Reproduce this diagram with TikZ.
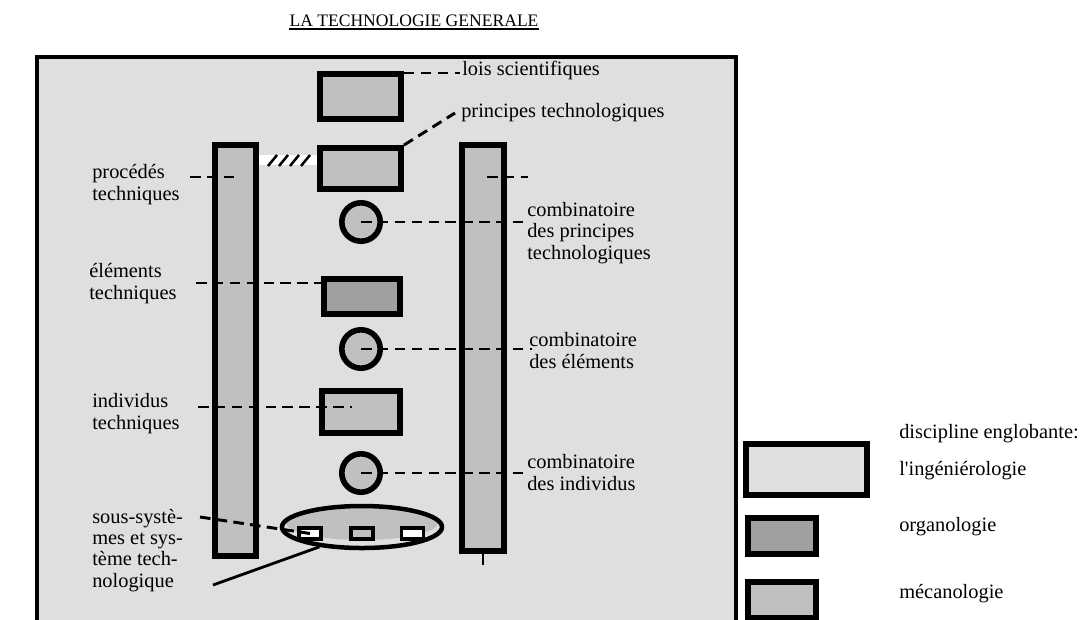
\documentclass[tikz,border=0pt]{standalone}
\usepackage{fontspec}
\setmainfont{Liberation Serif}
\usepackage{tikz}
\usetikzlibrary{calc,positioning,shapes.geometric}
\definecolor{fond}{RGB}{223,223,223}
\definecolor{meca}{RGB}{192,192,192}
\definecolor{orga}{RGB}{160,160,160}

\begin{document}
\begin{tikzpicture}[x=0.025cm,y=-0.025cm,
    bloc/.style={draw,line width=4pt,fill=meca,inner sep=0pt},
    rond/.style={bloc,circle,minimum size=0.96cm},
    puce/.style={draw,line width=2.6pt,inner sep=0pt,minimum width=0.55cm,minimum height=0.28cm},
    renvoi/.style={line width=2.1pt,dash pattern=on 7.5pt off 4.5pt},
    txt/.style={font=\fontsize{14.5}{15}\selectfont,align=left,inner sep=0pt,anchor=base west}]
  \clip (0,0) rectangle (1082,619);
  % titre et cadre
  \node[txt,font=\fontsize{12.5}{14}\selectfont,anchor=base] (titre) at (414,26) {LA TECHNOLOGIE GENERALE};
  \draw[line width=1.4pt] ($(titre.base west)+(0,3)$) -- ($(titre.base east)+(0,3)$);
  \draw[line width=2.2pt,fill=fond] (37,57) rectangle (736,660);
  % colonne du milieu
  \node[bloc,minimum width=2.03cm,minimum height=1.13cm] (lois) at (360.5,96.5) {};
  \node[bloc,minimum width=2.03cm,minimum height=1.03cm] (princ) at (360.5,168.5) {};
  \node[bloc,fill=orga,minimum width=1.9cm,minimum height=0.88cm] (elem) at (362,296.5) {};
  \node[bloc,minimum width=1.95cm,minimum height=1.05cm] (indiv) at (361,412) {};
  \foreach \n/\y in {1/222,2/349,3/473} \node[rond] (comb\n) at (361,\y) {};
  % systeme technologique
  \fill[fond] (362,527) ellipse (80 and 21);
  \fill[meca] (362,523) ellipse (76 and 17);
  \node[draw,ellipse,line width=3.2pt,minimum width=4.0cm,minimum height=1.05cm] (ens) at (362,527) {};
  \foreach \n/\x/\c in {1/310/white,2/362/meca,3/412.5/white} \node[puce,fill=\c] (ss\n) at (\x,533.5) {};
  % barres
  \node[bloc,minimum width=1.03cm,minimum height=10.28cm] (gauche) at (235.5,350.5) {};
  \node[bloc,minimum width=1.05cm,minimum height=10.15cm] (droite) at (483,348) {};
  \draw[line width=1.2pt] (droite.south) -- ++(0,11);
  % hachures entre barre et principes
  \fill[white] (259,155) rectangle (317,165);
  \foreach \x in {268,279,290,301} \draw[line width=1.8pt] (\x,166) -- (\x+9,155);
  % renvois
  \coordinate (loisT) at (460,73);
  \coordinate (princT) at (455,113);
  \coordinate (procG) at (190,177); \coordinate (procD) at (238,177);
  \coordinate (drG) at (487,177); \coordinate (drD) at (528,177);
  \coordinate (comb1T) at (523,222);
  \coordinate (elemG) at (196,283);
  \coordinate (comb2T) at (532,349);
  \coordinate (indivG) at (198,407); \coordinate (indivD) at (352,407);
  \coordinate (comb3T) at (523,473);
  \coordinate (ssG) at (200,517);
  \coordinate (ensG) at (213,585);
  \draw[renvoi] (lois.east |- loisT) -- (loisT);
  \draw[renvoi] (princ.north east) -- (princT);
  \draw[renvoi] (procG) -- (procD);
  \draw[renvoi] (drG) -- (drD);
  \draw[renvoi] (comb1.center) -- (comb1T);
  \draw[renvoi] (elemG) -- (elem.west |- elemG);
  \draw[renvoi] (comb2.center) -- (comb2T);
  \draw[renvoi] (indivG) -- (indivD);
  \draw[renvoi] (comb3.center) -- (comb3T);
  \draw[renvoi] (ssG) -- (ss1.center);
  \draw[line width=2pt] (ensG) -- (ens.205);
  % textes (base = derniere ligne)
  \node[txt] (loisL) at (462,75) {lois scientifiques};
  \node[txt] (princL) at (461,117) {principes technologiques};
  \node[txt] (procL) at (92,200) {procédés\\techniques};
  \node[txt] (comb1L) at (527,259) {combinatoire\\des principes\\technologiques};
  \node[txt] (elemL) at (89,299) {éléments\\techniques};
  \node[txt] (comb2L) at (529,368) {combinatoire\\des éléments};
  \node[txt] (indivL) at (92,429) {individus\\techniques};
  \node[txt] (comb3L) at (527,490) {combinatoire\\des individus};
  \node[txt] (ssL) at (92,587) {sous-systè-\\mes et sys-\\tème tech-\\nologique};
  % legende
  \node[bloc,fill=fond,minimum width=3.03cm,minimum height=1.28cm] (legIng) at (806.5,469.5) {};
  \node[bloc,fill=orga,minimum width=1.7cm,minimum height=0.9cm] (legOrg) at (782,536) {};
  \node[bloc,minimum width=1.7cm,minimum height=0.9cm] (legMec) at (782,600) {};
  \node[txt] (legTitre) at (899,438) {discipline englobante:};
  \node[txt] (legIngL) at (899,475) {l\textquotesingle ingéniérologie};
  \node[txt] (legOrgL) at (899,531) {organologie};
  \node[txt] (legMecL) at (899,598) {mécanologie};
\end{tikzpicture}
\end{document}
